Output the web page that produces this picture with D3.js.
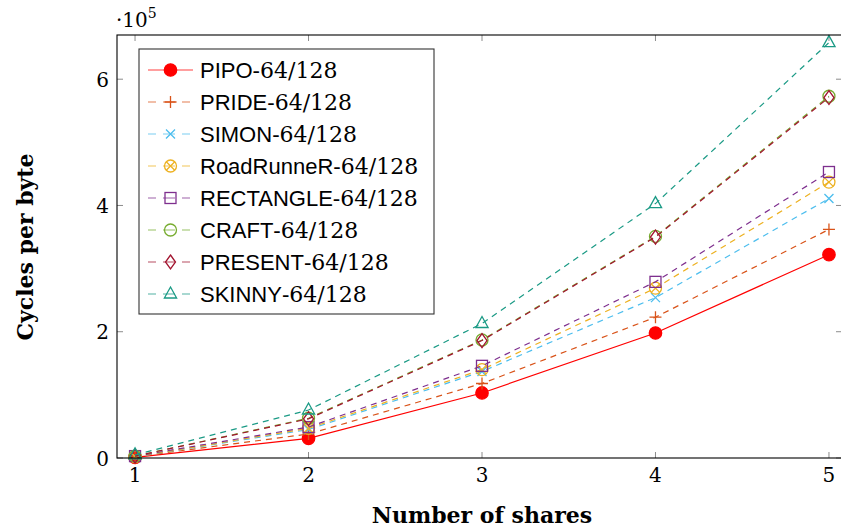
<!DOCTYPE html>
<meta charset="utf-8">
<style>
  body { margin: 0; background: #fff; }
  svg { display: block; }
</style>
<svg width="841" height="529"></svg>
<script src="https://cdn.jsdelivr.net/npm/d3@7"></script>
<script>
    // number of shares on the x axis
    var shares = [1, 2, 3, 4, 5];
    // cycles per byte, in units of 10^5
    var pipo       = [0.01, 0.31, 1.03, 1.98, 3.22];
    var pride      = [0.02, 0.38, 1.18, 2.23, 3.62];
    var simon      = [0.02, 0.45, 1.37, 2.54, 4.11];
    var roadrunner = [0.02, 0.47, 1.40, 2.69, 4.37];
    var rectangle  = [0.03, 0.49, 1.46, 2.79, 4.53];
    var craft      = [0.03, 0.63, 1.87, 3.51, 5.73];
    var present    = [0.03, 0.62, 1.86, 3.50, 5.71];
    var skinny     = [0.05, 0.76, 2.13, 4.03, 6.58];
    var yTicks = [0, 2, 4, 6];

    var series = [
        { name: 'PIPO', values: pipo, color: '#ff0000', mark: 'dot', dash: null },
        { name: 'PRIDE', values: pride, color: '#d95319', mark: 'plus', dash: '6,5' },
        { name: 'SIMON', values: simon, color: '#4dbeee', mark: 'x', dash: '6,5' },
        { name: 'RoadRunneR', values: roadrunner, color: '#edb120', mark: 'otimes', dash: '6,5' },
        { name: 'RECTANGLE', values: rectangle, color: '#7e2f8e', mark: 'square', dash: '6,5' },
        { name: 'CRAFT', values: craft, color: '#77ac30', mark: 'circle', dash: '6,5' },
        { name: 'PRESENT', values: present, color: '#a2142f', mark: 'diamond', dash: '6,5' },
        { name: 'SKINNY', values: skinny, color: '#1a9a85', mark: 'triangle', dash: '6,5' }
    ];

    var svg = d3.select('svg');
    var pLeft = 117, pTop = 35, pRight = 847, pBottom = 458;
    var serif = '"DejaVu Serif", "Liberation Serif", serif';
    var sans = '"Liberation Sans", "DejaVu Sans", sans-serif';

    var x = d3.scaleLinear().domain([0.896, 5.104]).range([pLeft, pRight]);
    var y = d3.scaleLinear().domain([0, 6.70]).range([pBottom, pTop]);

    // inner gray ticks (pgfplots style), on all four sides
    var tickG = svg.append('g').attr('stroke', '#8c8c8c').attr('stroke-width', 1);
    shares.forEach(function (s) {
        tickG.append('line').attr('x1', x(s)).attr('x2', x(s)).attr('y1', pBottom).attr('y2', pBottom - 6);
        tickG.append('line').attr('x1', x(s)).attr('x2', x(s)).attr('y1', pTop).attr('y2', pTop + 6);
    });
    yTicks.forEach(function (t) {
        tickG.append('line').attr('x1', pLeft).attr('x2', pLeft + 6).attr('y1', y(t)).attr('y2', y(t));
        tickG.append('line').attr('x1', pRight - 11).attr('x2', pRight - 5).attr('y1', y(t)).attr('y2', y(t));
    });

    // tick labels
    svg.append('g').selectAll('text').data(shares).enter().append('text')
        .attr('x', function (d) { return x(d); })
        .attr('y', 482)
        .attr('text-anchor', 'middle')
        .style('font-family', serif).style('font-size', '20px')
        .text(function (d) { return d; });
    svg.append('g').selectAll('text').data(yTicks).enter().append('text')
        .attr('x', 109)
        .attr('y', function (d) { return y(d) + 7.5; })
        .attr('text-anchor', 'end')
        .style('font-family', serif).style('font-size', '20px')
        .text(function (d) { return d; });

    // scale factor ·10^5
    var sc = svg.append('text').attr('x', 116).attr('y', 27)
        .style('font-family', serif).style('font-size', '20px');
    sc.append('tspan').text('\u00b710');
    sc.append('tspan').attr('dy', -9).style('font-size', '14px').text('5');

    // axis titles
    svg.append('text').attr('x', 482).attr('y', 523)
        .attr('text-anchor', 'middle')
        .style('font-family', serif).style('font-size', '22px').style('font-weight', 'bold')
        .text('Number of shares');
    svg.append('text')
        .attr('transform', 'translate(33,247) rotate(-90)')
        .attr('text-anchor', 'middle')
        .style('font-family', serif).style('font-size', '22px').style('font-weight', 'bold')
        .text('Cycles per byte');

    // marker drawing
    function drawMark(g, type, cx, cy, color) {
        var m = g.append('g').attr('transform', 'translate(' + cx + ',' + cy + ')')
            .attr('stroke', color).attr('stroke-width', 1.3).attr('fill', 'none');
        var r = 6;
        if (type === 'dot') {
            m.append('circle').attr('r', 6.2).attr('fill', color).attr('stroke', color);
        } else if (type === 'plus') {
            m.append('path').attr('d', 'M' + (-r) + ',0H' + r + 'M0,' + (-r) + 'V' + r);
        } else if (type === 'x') {
            var a = 4.5;
            m.append('path').attr('d', 'M' + (-a) + ',' + (-a) + 'L' + a + ',' + a + 'M' + (-a) + ',' + a + 'L' + a + ',' + (-a));
        } else if (type === 'otimes') {
            m.append('circle').attr('r', r);
            var b = r * 0.707;
            m.append('path').attr('d', 'M' + (-b) + ',' + (-b) + 'L' + b + ',' + b + 'M' + (-b) + ',' + b + 'L' + b + ',' + (-b));
        } else if (type === 'square') {
            m.append('rect').attr('x', -5.5).attr('y', -5.5).attr('width', 11).attr('height', 11);
        } else if (type === 'circle') {
            m.append('circle').attr('r', r);
        } else if (type === 'diamond') {
            m.append('path').attr('d', 'M0,-7L5,0L0,7L-5,0Z');
        } else if (type === 'triangle') {
            m.append('path').attr('d', 'M0,-7L6.1,4L-6.1,4Z');
        }
    }

    var line = d3.line()
        .x(function (d, i) { return x(shares[i]); })
        .y(function (d) { return y(d); });

    var plot = svg.append('g');
    series.forEach(function (s) {
        var g = plot.append('g');
        g.append('path')
            .attr('d', line(s.values))
            .attr('fill', 'none')
            .attr('stroke', s.color)
            .attr('stroke-width', 1.2)
            .attr('stroke-dasharray', s.dash);
        s.values.forEach(function (v, i) {
            drawMark(g, s.mark, x(shares[i]), y(v), s.color);
        });
    });

    // axis frame
    svg.append('rect').attr('x', pLeft).attr('y', pTop)
        .attr('width', pRight - pLeft).attr('height', pBottom - pTop)
        .attr('fill', 'none').attr('stroke', '#000').attr('stroke-width', 1.1);

    // legend
    var lg = svg.append('g');
    lg.append('rect').attr('x', 139).attr('y', 49).attr('width', 295).attr('height', 265)
        .attr('fill', '#fff').attr('stroke', '#333').attr('stroke-width', 1.1);
    series.forEach(function (s, i) {
        var cy = 70 + i * 32;
        lg.append('line').attr('x1', 148).attr('x2', s.dash ? 190 : 193).attr('y1', cy).attr('y2', cy)
            .attr('stroke', s.color).attr('stroke-width', 1.2).attr('stroke-opacity', 0.75)
            .attr('stroke-dasharray', s.dash ? '8,7,12,7,8' : null);
        drawMark(lg, s.mark, 170.5, cy, s.color);
        var t = lg.append('text').attr('x', 200).attr('y', cy + 7.5);
        t.append('tspan').style('font-family', sans).style('font-size', '22px').text(s.name);
        t.append('tspan').style('font-family', serif).style('font-size', '22px').text('-64/128');
    });
</script>
